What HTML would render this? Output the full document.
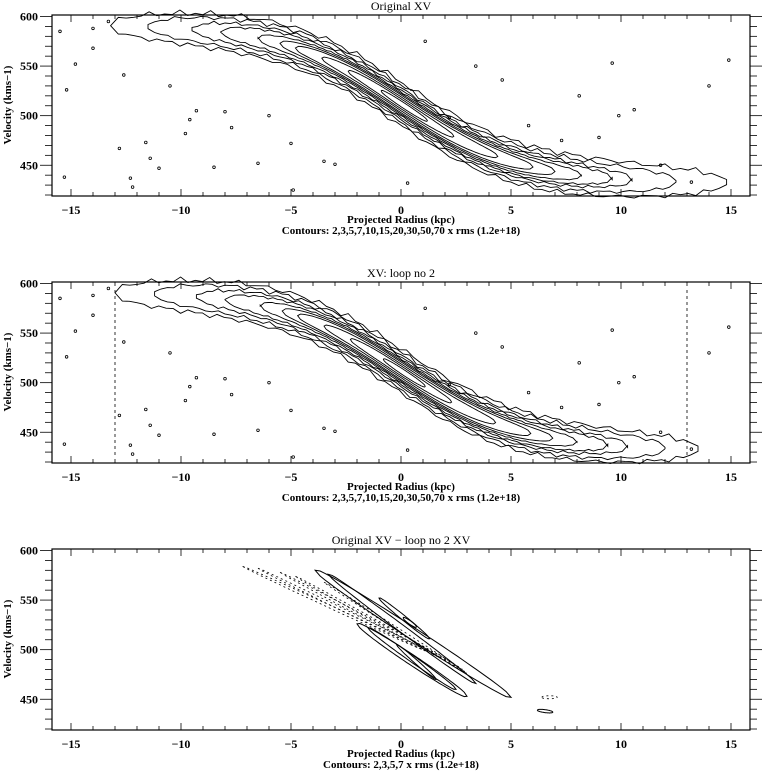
<!DOCTYPE html>
<html><head><meta charset="utf-8">
<style>
body{margin:0;background:#fff;}
svg{display:block;font-family:"Liberation Serif",serif;font-weight:bold;}
</style></head>
<body>
<svg id="fig" width="764" height="771" viewBox="0 0 764 771"></svg>
<script>
// ---- data ----
const levelNames = ["2","3","5","7","10","15","20","30","50","70"];
const levelXmin = [-13.2,-11.5,-9.5,-8.2,-6.5,-5.5,-4.8,-3.6,-2.4,-0.9];
const levelXmax = [14.8,12.5,10.5,9.6,8.2,7.0,6.0,4.4,2.4,1.2];
const levelHalfWidth = [22,19,16,14,12,10.5,9,7,5,3];
const loopLevelXmin = [-13.0,-11.2,-9.3,-8.0,-6.4,-5.4,-4.7,-3.5,-2.3,-0.8];
const loopLevelXmax = [13.5,12.0,10.3,9.4,8.0,6.9,5.9,4.3,2.3,1.1];
const noiseX = [-15.5,-15.2,-14.8,-14,-14,-13.3,-12.6,-12.3,-12.2,-11.6,-11.4,-15.3,-12.8,-11,-9.8,-9.3,-8.5,-10.5,-8,-6.5,-5,-4.9,-6,-3,1.1,2.2,3.4,4.6,5.8,7.3,8.1,9.0,9.6,9.9,10.6,11.8,13.2,14.0,14.9,-9.6,-7.7,-3.5,0.3];
const noiseV = [585,526,552,588,568,595,541,437,428,473,457,438,467,447,482,505,448,530,504,452,472,425,500,451,575,498,550,536,490,475,520,478,553,500,506,450,433,530,556,496,488,454,432];
const radiusTicks = [-15,-10,-5,0,5,10,15];
const velocityTicks = [450,500,550,600];
// residual panel contours
const resX1 = [-3.9,-3.3,-1.0,0.1,-2.0,-1.5,-0.2];
const resV1 = [580,576,552,532,526,522,505];
const resX2 = [5.0,3.4,1.3,0.7,3.0,2.5,1.6];
const resV2 = [452,466,511,523,453,460,470];
const resW = [7,4.5,3,2,6,4,2.5];
const negX1 = [-7.2,-6.5,-5.5,-4.8,-3.5];
const negV1 = [584,582,578,574,568];
const negX2 = [1.0,1.8,2.4,2.8,3.0];
const negV2 = [500,492,486,480,476];

const NS="http://www.w3.org/2000/svg";
const svg=document.getElementById('fig');
function mk(tag,attrs,parent){const e=document.createElementNS(NS,tag);for(const k in attrs)e.setAttribute(k,attrs[k]);(parent||svg).appendChild(e);return e;}
const L=52,R=750,X0=401,PX=22;
function xs(x){return X0+x*PX;}
function makeY(top){return v=>top+(601.5-v)/(601.5-419)*181;}
function vc(x){return 512-80*Math.tanh(x/5.5);}

function axes(top,title,name){
  const g=mk('g',{});
  
  
  const ys=makeY(top),bot=top+181;
  const box=mk('rect',{x:L,y:top,width:R-L,height:181,fill:'none',stroke:'#000','stroke-width':1.2},g);
  
  for(let x=-15;x<=15;x++){const big=x%5==0;const len=big?7:4;
    mk('line',{x1:xs(x),x2:xs(x),y1:bot,y2:bot-len,stroke:'#000','stroke-width':0.8},g);
    mk('line',{x1:xs(x),x2:xs(x),y1:top,y2:top+len,stroke:'#000','stroke-width':0.8},g);}
  radiusTicks.forEach(x=>{const t=mk('text',{x:xs(x),y:bot+18,'text-anchor':'middle','font-size':12},g);t.textContent=x==0?'0':(x<0?'\u2212'+(-x):x);
    });
  for(let v=420;v<=600;v+=10){const big=v%50==0;const len=big?12:7;
    mk('line',{x1:L,x2:L-len,y1:ys(v),y2:ys(v),stroke:'#000','stroke-width':0.8},g);
    mk('line',{x1:R,x2:R+len,y1:ys(v),y2:ys(v),stroke:'#000','stroke-width':0.8},g);}
  velocityTicks.forEach(v=>{const t=mk('text',{x:L-14,y:ys(v)+4,'text-anchor':'end','font-size':12},g);t.textContent=v;
    });
  const yl=mk('text',{x:11,y:top+90,'text-anchor':'middle','font-size':11,transform:`rotate(-90 11 ${top+90})`},g);yl.textContent='Velocity (kms\u22121)';
  
  const tt=mk('text',{x:401,y:top-5,'text-anchor':'middle','font-size':12,'font-weight':'normal'},g);tt.textContent=title;
  
  return {g,ys,top,bot};
}
function xlabels(p,contours){
  const a=mk('text',{x:401,y:p.bot+27,'text-anchor':'middle','font-size':11},p.g);a.textContent='Projected Radius (kpc)';
  
  const b=mk('text',{x:401,y:p.bot+38,'text-anchor':'middle','font-size':11},p.g);b.textContent=contours;
  
}
function bandContours(p,xmins,xmaxs){
  const cg=mk('g',{fill:'none',stroke:'#000','stroke-width':0.9},p.g);
  
  for(let k=0;k<xmins.length;k++){
    const a=xmins[k],b=xmaxs[k],W=levelHalfWidth[k],n=80;const up=[],lo=[];
    const jit=k<5?(5-k)*0.7:0;
    for(let i=0;i<=n;i++){const x=a+(b-a)*i/n;const t=2*i/n-1;
      const w=W*Math.pow(Math.max(0,1-t*t),0.4);
      const j=jit*Math.sin(i*2.3+k)*Math.cos(i*0.7);
      up.push([xs(x),p.ys(vc(x)+w+j)]);lo.push([xs(x),p.ys(vc(x)-w-j*0.8)]);}
    const pts=up.concat(lo.reverse());
    const path=mk('path',{d:'M'+pts.map(q=>q[0].toFixed(1)+','+q[1].toFixed(1)).join('L')+'Z'},cg);
    
  }
  for(let i=0;i<noiseX.length;i++){
    const c=mk('circle',{cx:xs(noiseX[i]),cy:p.ys(noiseV[i]),r:1.3,fill:'none',stroke:'#000','stroke-width':0.8},cg);
    
  }
}
function lens(parent,x1,v1,x2,v2,w,ys,dash,name){
  const n=40,up=[],lo=[];
  for(let i=0;i<=n;i++){const t=i/n;const x=x1+(x2-x1)*t,v=v1+(v2-v1)*t;const hw=w*Math.pow(Math.sin(Math.PI*t),0.4);
    up.push([xs(x),ys(v+hw)]);lo.push([xs(x),ys(v-hw)]);}
  const pts=up.concat(lo.reverse());
  const e=mk('path',{d:'M'+pts.map(q=>q[0].toFixed(1)+','+q[1].toFixed(1)).join('L')+'Z',fill:'none',stroke:'#000','stroke-width':dash?0.8:1,'stroke-dasharray':dash?'2,3':'none'},parent);
  
}

const p1=axes(15,'Original XV','panel-original');
bandContours(p1,levelXmin,levelXmax);
xlabels(p1,'Contours: 2,3,5,7,10,15,20,30,50,70 x rms (1.2e+18)');

const p2=axes(282,'XV: loop no  2','panel-loop');
bandContours(p2,loopLevelXmin,loopLevelXmax);
[-13,13].forEach(x=>{const l=mk('line',{x1:xs(x),x2:xs(x),y1:p2.top+8,y2:p2.bot-8,stroke:'#000','stroke-width':0.8,'stroke-dasharray':'3,3'},p2.g);
  });
xlabels(p2,'Contours: 2,3,5,7,10,15,20,30,50,70 x rms (1.2e+18)');

const p3=axes(549,'Original XV \u2212 loop no  2 XV','panel-residual');
for(let i=0;i<resX1.length;i++) lens(p3.g,resX1[i],resV1[i],resX2[i],resV2[i],resW[i],p3.ys,false,'positive-contour');
for(let i=0;i<negX1.length;i++) lens(p3.g,negX1[i],negV1[i],negX2[i],negV2[i],1.5,p3.ys,true,'negative-contour');
lens(p3.g,6.2,439,6.9,437,1.5,p3.ys,false,'positive-contour');
lens(p3.g,6.4,452,7.1,452,1.5,p3.ys,true,'negative-contour');
xlabels(p3,'Contours: 2,3,5,7 x rms (1.2e+18)');
</script>
</body></html>
